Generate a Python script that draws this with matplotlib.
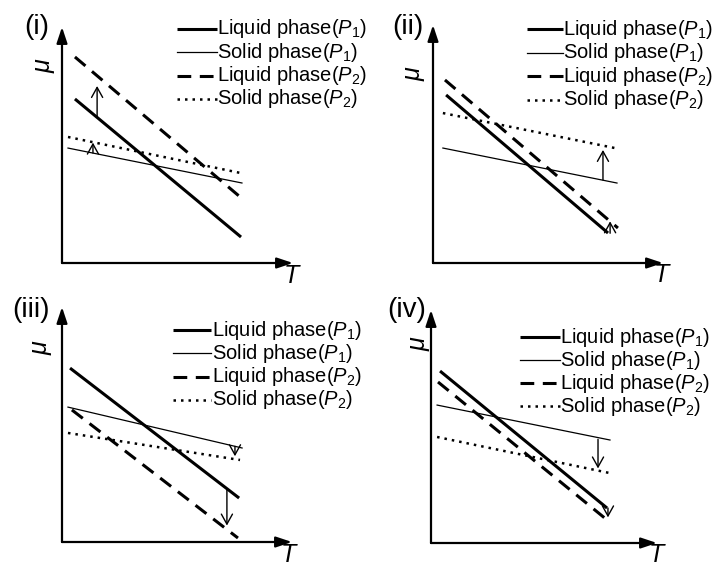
import matplotlib
matplotlib.use("Agg")
import matplotlib.pyplot as plt

plt.rcParams["font.family"] = ["Liberation Sans", "DejaVu Sans"]
plt.rcParams["mathtext.fontset"] = "custom"
plt.rcParams["mathtext.rm"] = "Liberation Sans"
plt.rcParams["mathtext.it"] = "Liberation Sans:italic"

# -------------------------
# data (T along x, mu along y, axes run 0..10)
# -------------------------
panel_names = ["(i)", "(ii)", "(iii)", "(iv)"]

liq_p1_x = [(0.56, 7.75), (0.57, 7.61), (0.35, 7.70), (0.40, 7.79)]
liq_p1_y = [(6.95, 1.10), (7.06, 1.26), (7.40, 1.87), (7.38, 1.50)]
sol_p1_x = [(0.26, 7.79), (0.43, 8.00), (0.26, 7.83), (0.27, 7.92)]
sol_p1_y = [(4.87, 3.39), (4.83, 3.36), (5.74, 4.00), (5.92, 4.42)]
liq_p2_x = [(0.56, 7.71), (0.52, 8.04), (0.43, 7.65), (0.31, 7.79)]
liq_p2_y = [(8.73, 2.80), (7.69, 1.47), (5.62, 0.17), (6.91, 0.99)]
sol_p2_x = [(0.26, 7.75), (0.43, 7.91), (0.26, 7.74), (0.27, 7.92)]
sol_p2_y = [(5.34, 3.81), (6.30, 4.83), (4.64, 3.49), (4.55, 3.00)]

# shift arrows: (big, small) per panel
arrow_x = [(1.52, 1.34), (7.39, 7.70), (7.17, 7.52), (7.39, 7.83)]
arrow_from = [(6.17, 4.66), (3.49, 1.25), (2.27, 4.07), (4.45, 1.50)]
arrow_to = [(7.50, 5.10), (4.75, 1.75), (0.70, 3.65), (3.20, 1.10)]

legend_labels = [r"Liquid phase($P_1$)", r"Solid phase($P_1$)",
                 r"Liquid phase($P_2$)", r"Solid phase($P_2$)"]

# -------------------------
# styles / layout
# -------------------------
styles = [
    dict(color="black", lw=2.2, ls="-", solid_capstyle="butt"),
    dict(color="black", lw=0.9, ls="-"),
    dict(color="black", lw=2.2, ls=(0, (4.5, 2.8)), dash_capstyle="butt"),
    dict(color="black", lw=1.8, ls=(0, (1.0, 2.0)), dash_capstyle="butt"),
]

# axes boxes in pixels: origin x, origin y (from top), x length, y length
boxes = [(62, 263, 231, 236), (433, 263, 230, 238),
         (62, 542, 230, 235), (431, 543, 226, 233)]
# legend: handle start, handle end, first row y
leg_pos = [(4.98, 6.71, 9.92), (4.09, 5.65, 9.83),
           (4.83, 6.48, 9.02), (3.94, 5.71, 8.84)]
name_pos = [(-1.08, 10.0), (-1.09, 9.92), (-1.35, 9.87), (-1.06, 10.0)]
mu_pos = [(-0.74, 8.4), (-0.78, 8.0), (-0.87, 8.3), (-0.5, 8.6)]
t_pos = [(9.96, -0.55), (9.96, -0.5), (9.9, -0.55), (10.0, -0.52)]

W, H = 720, 570
fig = plt.figure(figsize=(7.2, 5.7), dpi=100)

series = [(liq_p1_x, liq_p1_y), (sol_p1_x, sol_p1_y),
          (liq_p2_x, liq_p2_y), (sol_p2_x, sol_p2_y)]

for i, name in enumerate(panel_names):
    ox, oy, lx, ly = boxes[i]
    ax = fig.add_axes([ox / W, (H - oy) / H, lx / W, ly / H])
    ax.set_xlim(0, 10)
    ax.set_ylim(0, 10)
    ax.axis("off")

    # axes with filled arrow heads
    head = dict(arrowstyle="-|>,head_length=0.6,head_width=0.2", lw=1.6,
                color="black", mutation_scale=16, shrinkA=0, shrinkB=0)
    ax.annotate("", xy=(10, 0), xytext=(0, 0), arrowprops=head,
                annotation_clip=False)
    ax.annotate("", xy=(0, 10), xytext=(0, 0), arrowprops=head,
                annotation_clip=False)

    for (xs, ys), st in zip(series, styles):
        ax.plot(xs[i], ys[i], clip_on=False, **st)

    # shift arrows
    for k in range(2):
        ax.annotate("", xy=(arrow_x[i][k], arrow_to[i][k]),
                    xytext=(arrow_x[i][k], arrow_from[i][k]),
                    arrowprops=dict(arrowstyle="->,head_length=0.45,head_width=0.25",
                                    lw=1.0, color="black", mutation_scale=16,
                                    shrinkA=0, shrinkB=0),
                    annotation_clip=False)

    # legend drawn by hand
    hx0, hx1, hy = leg_pos[i]
    for r, (lab, st) in enumerate(zip(legend_labels, styles)):
        yy = hy - r * 0.99
        ax.plot([hx0, hx1], [yy, yy], clip_on=False, **st)
        ax.text(hx1 + 0.02, yy, lab, fontsize=14.5, ha="left", va="center",
                clip_on=False)

    ax.text(*name_pos[i], name, fontsize=20, ha="center", va="center")
    ax.text(*mu_pos[i], r"$\mu$", fontsize=18, ha="center", va="center",
            rotation=90)
    ax.text(*t_pos[i], r"$T$", fontsize=18, ha="center", va="center")

fig.savefig("out.png", dpi=100)
